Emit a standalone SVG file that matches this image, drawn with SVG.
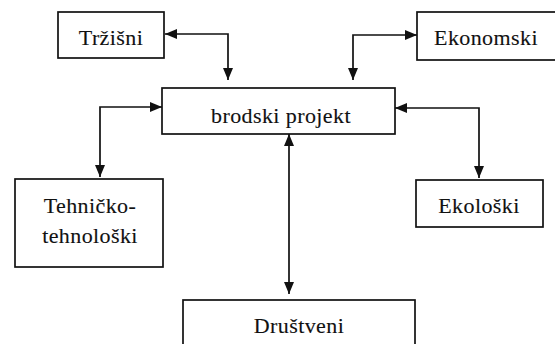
<svg xmlns="http://www.w3.org/2000/svg" width="555" height="344" viewBox="0 0 555 344">
  <defs>
    <marker id="arrow" viewBox="0 0 12 10" refX="12" refY="5" markerWidth="12" markerHeight="10" markerUnits="userSpaceOnUse" orient="auto-start-reverse">
      <path d="M0,0 L12,5 L0,10 z" fill="#111"/>
    </marker>
  </defs>
  <style>
    .box { fill: #fff; stroke: #111; stroke-width: 1.7; }
    .lbl { font-family: 'Liberation Serif', 'DejaVu Serif', serif; font-size: 22px; fill: #111; stroke: #111; stroke-width: 0.12; text-anchor: middle; letter-spacing: 0.4px; }
    .conn { fill: none; stroke: #111; stroke-width: 1.7; marker-start: url(#arrow); marker-end: url(#arrow); }
  </style>
  <rect width="555" height="344" fill="#fff"/>

  <!-- two-headed links between the central box and the five factors -->
  <g id="connectors">
    <path class="conn" d="M165,34 H228 V80"/>
    <path class="conn" d="M417,35 H353 V80"/>
    <path class="conn" d="M162,107 H100 V177"/>
    <path class="conn" d="M395,108 H479 V178"/>
    <path class="conn" d="M289,134 V294"/>
  </g>

  <g id="trzisni">
    <rect class="box" x="58" y="12" width="106" height="46"/>
    <text class="lbl" x="111" y="45">Tržišni</text>
  </g>

  <g id="ekonomski">
    <rect class="box" x="417" y="12" width="150" height="48"/>
    <text class="lbl" x="486" y="45">Ekonomski</text>
  </g>

  <g id="brodski-projekt">
    <rect class="box" x="162" y="88" width="233" height="46"/>
    <text class="lbl" x="281" y="123">brodski projekt</text>
  </g>

  <g id="tehnicko-tehnoloski">
    <rect class="box" x="15" y="179" width="148" height="88"/>
    <text class="lbl" x="90" y="213">Tehničko-</text>
    <text class="lbl" x="90" y="243">tehnološki</text>
  </g>

  <g id="ekoloski">
    <rect class="box" x="416" y="180" width="127" height="47"/>
    <text class="lbl" x="479" y="213">Ekološki</text>
  </g>

  <g id="drustveni">
    <rect class="box" x="183" y="300" width="232" height="60"/>
    <text class="lbl" x="299" y="333">Društveni</text>
  </g>
</svg>
